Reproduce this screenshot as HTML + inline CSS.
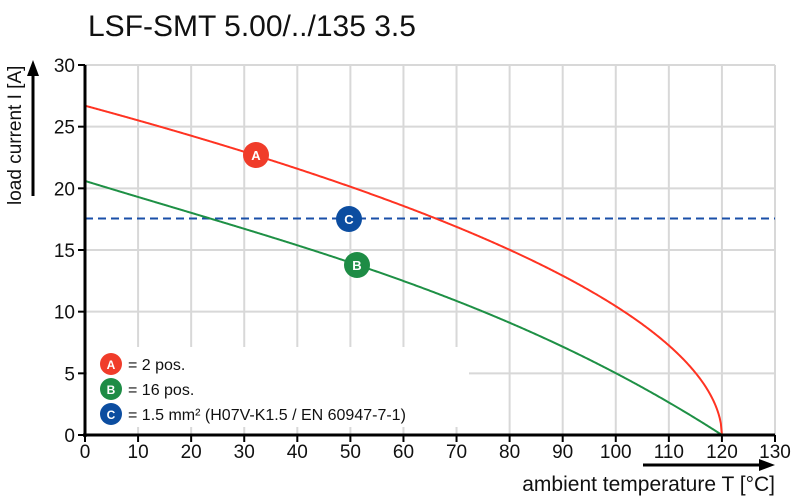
<!DOCTYPE html>
<html><head><meta charset="utf-8"><style>
body{margin:0;background:#fff;}
svg{display:block;font-family:"Liberation Sans",sans-serif;}
</style></head><body>
<svg id="s" width="800" height="500" xmlns="http://www.w3.org/2000/svg">
<text x="88" y="36" font-size="30" fill="#111">LSF-SMT 5.00/../135 3.5</text>
<g id="grid" stroke="#d8d8d8" stroke-width="2"></g>
<rect x="87" y="347" width="382" height="80" fill="#fff"/>
<line x1="85" y1="218.5" x2="775" y2="218.5" stroke="#1a4fa8" stroke-width="2" stroke-dasharray="8,5"/>
<path id="red" fill="none" stroke="#ff3322" stroke-width="2"/>
<path id="green" fill="none" stroke="#1e9045" stroke-width="2"/>
<line x1="85" y1="65" x2="85" y2="437" stroke="#000" stroke-width="3"/>
<line x1="83" y1="435" x2="775" y2="435" stroke="#000" stroke-width="3"/>
<g id="ticks" stroke="#000" stroke-width="2"></g>
<g id="lbl" font-size="19" fill="#111"></g>
<g font-weight="bold" font-size="13" fill="#fff" text-anchor="middle">
<circle cx="256" cy="155" r="13" fill="#f03c2a"/><text x="256" y="160">A</text>
<circle cx="349" cy="219" r="13" fill="#0c4da0"/><text x="349" y="224">C</text>
<circle cx="357" cy="265" r="13" fill="#1e8c45"/><text x="357" y="270">B</text>
<circle cx="111" cy="364" r="11" fill="#f03c2a"/><text x="111" y="369" font-size="12">A</text>
<circle cx="111" cy="389" r="11" fill="#1e8c45"/><text x="111" y="394" font-size="12">B</text>
<circle cx="111" cy="414" r="11" fill="#0c4da0"/><text x="111" y="419" font-size="12">C</text>
</g>
<g font-size="16" fill="#111">
<text x="128" y="370">= 2 pos.</text>
<text x="128" y="395">= 16 pos.</text>
<text x="128" y="420">= 1.5 mm² (H07V-K1.5 / EN 60947-7-1)</text>
</g>
<line x1="33" y1="196" x2="33" y2="72" stroke="#000" stroke-width="3"/>
<polygon points="33,60 27,76 39,76" fill="#000"/>
<text transform="translate(21,205) rotate(-90)" font-size="19" fill="#111">load current I [A]</text>
<line x1="643" y1="465" x2="762" y2="465" stroke="#000" stroke-width="3"/>
<polygon points="775,465 759,459 759,471" fill="#000"/>
<text x="775" y="491" font-size="21" fill="#111" text-anchor="end">ambient temperature T [°C]</text>
</svg>
<script>
var X=function(t){return 85+t*690/130},Y=function(i){return 435-i*370/30};
var g=document.getElementById('grid'),tk=document.getElementById('ticks'),lb=document.getElementById('lbl');
var ns='http://www.w3.org/2000/svg';
function el(p,n,a,txt){var e=document.createElementNS(ns,n);for(var k in a)e.setAttribute(k,a[k]);if(txt!=null)e.textContent=txt;p.appendChild(e);}
for(var t=10;t<=130;t+=10){el(g,'line',{x1:X(t),y1:65,x2:X(t),y2:435});}
for(var i=5;i<=30;i+=5){el(g,'line',{x1:85,y1:Y(i),x2:775,y2:Y(i)});}
for(var t=0;t<=130;t+=10){el(tk,'line',{x1:X(t),y1:435,x2:X(t),y2:442});el(lb,'text',{x:X(t),y:458,'text-anchor':'middle'},t);}
for(var i=0;i<=30;i+=5){el(tk,'line',{x1:78,y1:Y(i),x2:85,y2:Y(i)});el(lb,'text',{x:75,y:Y(i)+7,'text-anchor':'end'},i);}
var r='',gr='';
for(var k=0;k<=600;k++){var t=k*0.2;
var a=26.7*Math.pow((120-t)/120,0.524);
var b=20.6-0.1317*t+0.000215*t*t-4.565e-6*t*t*t; if(k==600)b=0;
r+=(k?'L':'M')+X(t).toFixed(2)+','+Y(a).toFixed(2);gr+=(k?'L':'M')+X(t).toFixed(2)+','+Y(b).toFixed(2);}
document.getElementById('red').setAttribute('d',r);document.getElementById('green').setAttribute('d',gr);
</script>
</body></html>
